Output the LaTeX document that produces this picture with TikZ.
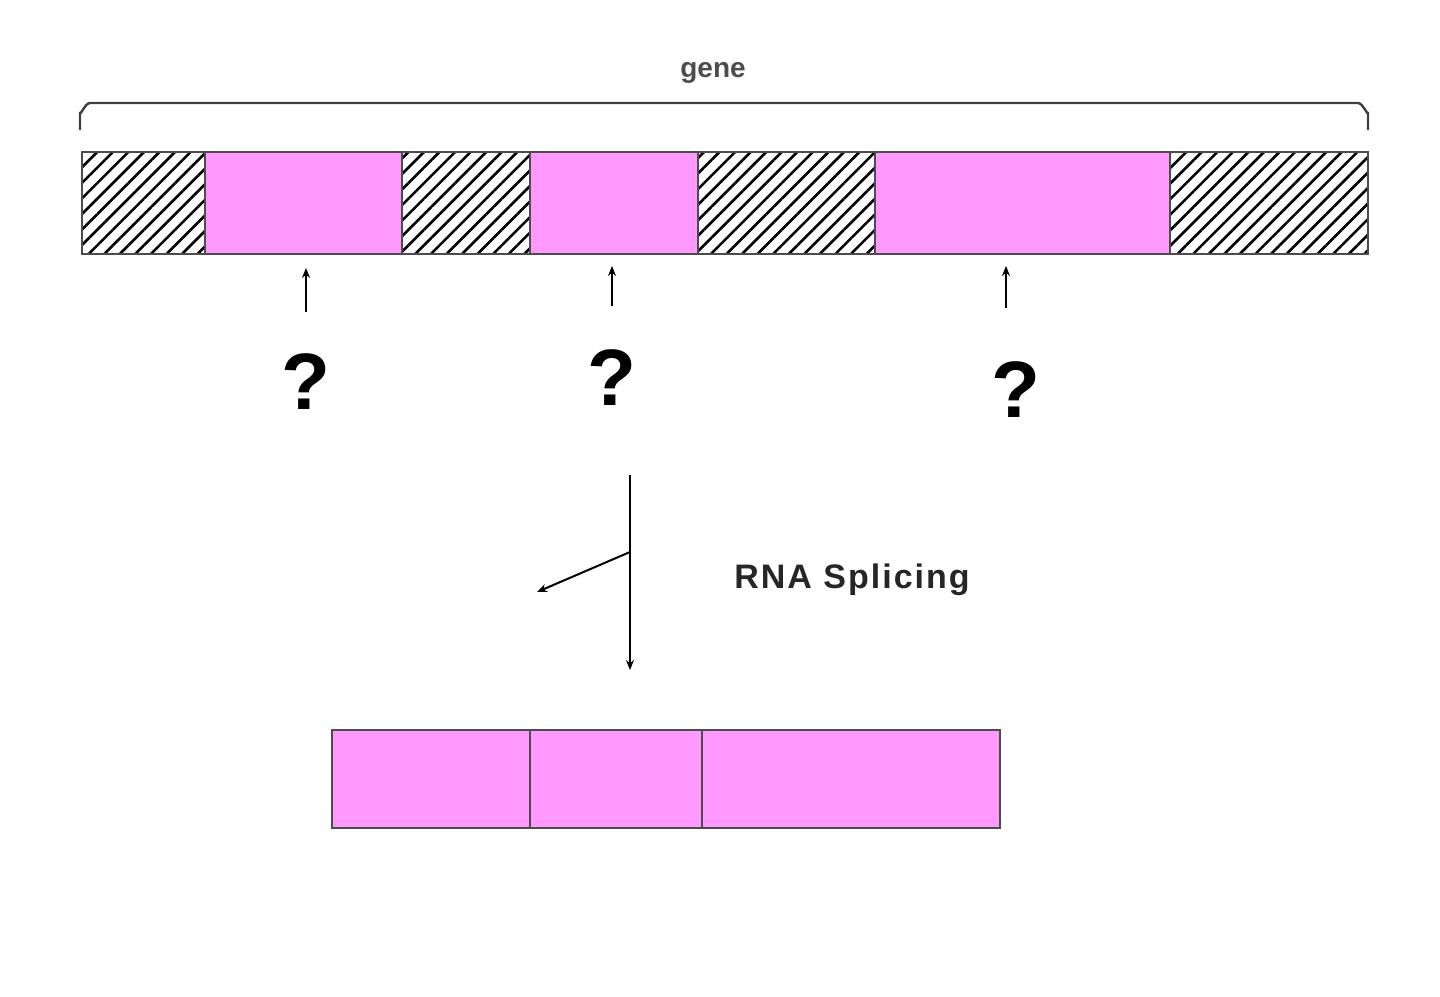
\documentclass[tikz,border=0pt]{standalone}
\usepackage{fontspec}
\setmainfont{Liberation Sans}
\usetikzlibrary{patterns.meta,arrows.meta}
\definecolor{exonpink}{HTML}{FF99FF}
\begin{document}
\begin{tikzpicture}[x=0.5pt,y=-0.5pt,
  hatch/.style={pattern={Lines[angle=45,distance=5.5pt,line width=1.3pt]},draw=black!70,line width=1pt},
  exon/.style={fill=exonpink,draw=black!70,line width=1pt},
  up/.style={-{Stealth[length=5pt,width=4pt]},line width=1pt},
  q/.style={font=\fontsize{40}{40}\selectfont\bfseries}]
\useasboundingbox (0,0) rectangle (1440,996);
\path[hatch] (82,152) rectangle (205,254);
\path[exon] (205,152) rectangle (402,254);
\path[hatch] (402,152) rectangle (530,254);
\path[exon] (530,152) rectangle (698,254);
\path[hatch] (698,152) rectangle (875,254);
\path[exon] (875,152) rectangle (1170,254);
\path[hatch] (1170,152) rectangle (1368,254);
\draw[line width=1.2pt,black!75] (80,130) -- (80,112) to[out=-90,in=180] (90,103) -- (1358,103) to[out=0,in=-90] (1368,112) -- (1368,130);
\node[font=\fontsize{14}{14}\selectfont\bfseries,text=black!70] (gene) at (713,73) {gene};
\node[q] (q1) at (306,382) {?};
\node[q] (q2) at (612,378) {?};
\node[q] (q3) at (1016,390) {?};
\coordinate (a1) at (306,268); \coordinate (a2) at (612,266); \coordinate (a3) at (1006,266);
\coordinate (t1) at (306,312); \coordinate (t2) at (612,306); \coordinate (t3) at (1006,308);
\draw[up] (t1) -- (a1);
\draw[up] (t2) -- (a2);
\draw[up] (t3) -- (a3);
\coordinate (s0) at (630,475); \coordinate (s1) at (630,670);
\coordinate (b0) at (630,552); \coordinate (b1) at (537,592);
\draw[up] (s0) -- (s1);
\draw[up] (b0) -- (b1);
\node[font=\fontsize{17}{17}\selectfont\bfseries,text=black!85] (rna) at (852,580) {R\kern1ptN\kern1ptA\kern1pt\ S\kern1ptp\kern1ptl\kern1pti\kern1ptc\kern1pti\kern1ptn\kern1ptg};
\node[exon,minimum width=99pt,minimum height=49pt,inner sep=0pt] (e1) at (431,779) {};
\node[exon,minimum width=86pt,minimum height=49pt,inner sep=0pt] (e2) at (616,779) {};
\node[exon,minimum width=149pt,minimum height=49pt,inner sep=0pt] (e3) at (851,779) {};
\end{tikzpicture}
\end{document}
